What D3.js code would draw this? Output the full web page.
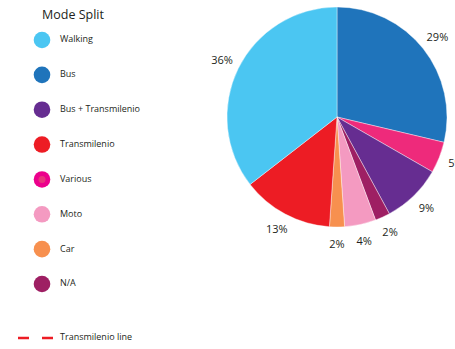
<!DOCTYPE html>
<html>
<head>
<meta charset="utf-8">
<script src="https://cdn.jsdelivr.net/npm/d3@7"></script>
<style>
  body { margin: 0; background: #fff; }
  svg { font-family: "Open Sans", "DejaVu Sans", sans-serif; }
</style>
</head>
<body>
<div id="chart"></div>
<script>
// pie slices, clockwise from 12 o'clock
var sliceNames = ["Bus", "Various", "Bus + Transmilenio", "N/A", "Moto", "Car", "Transmilenio", "Walking"];
var sliceValues = [28.7, 4.6, 8.8, 2.2, 4.6, 2.2, 13.4, 35.5];
var sliceLabels = ["29%", "5%", "9%", "2%", "4%", "2%", "13%", "36%"];
var sliceColors = ["#1f74bb", "#ee2a7b", "#662d91", "#9e1f63", "#f49ac1", "#f7904f", "#ed1c24", "#4bc6f2"];

// legend
var legendNames = ["Walking", "Bus", "Bus + Transmilenio", "Transmilenio", "Various", "Moto", "Car", "N/A"];
var legendColors = ["#4bc6f2", "#1f74bb", "#662d91", "#ed1c24", "#ec008c", "#f49ac1", "#f7904f", "#9e1f63"];

var width = 455, height = 349;
var cx = 337, cy = 117, radius = 110;

var svg = d3.select("#chart").append("svg")
    .attr("width", width)
    .attr("height", height);

// ---- pie
var pie = d3.pie().sort(null).value(function(d) { return d.value; });
var arc = d3.arc().innerRadius(0).outerRadius(radius);
var labelArc = d3.arc().innerRadius(128).outerRadius(128);

var data = sliceNames.map(function(n, i) {
    return { name: n, value: sliceValues[i], label: sliceLabels[i], color: sliceColors[i] };
});

var g = svg.append("g").attr("transform", "translate(" + cx + "," + cy + ")");

g.selectAll("path.slice")
    .data(pie(data))
    .enter().append("path")
    .attr("class", "slice")
    .attr("d", arc)
    .style("fill", function(d) { return d.data.color; })
    .style("stroke", "#fff")
    .style("stroke-width", 0.4);

g.selectAll("text.lbl")
    .data(pie(data))
    .enter().append("text")
    .attr("class", "lbl")
    .attr("transform", function(d) { return "translate(" + labelArc.centroid(d) + ")"; })
    .attr("text-anchor", "middle")
    .attr("dominant-baseline", "middle")
    .style("font-size", "11px")
    .style("fill", "#231f20")
    .text(function(d) { return d.data.label; });

// ---- legend
svg.append("text")
    .attr("x", 42)
    .attr("y", 19)
    .style("font-size", "12.5px")
    .style("fill", "#231f20")
    .text("Mode Split");

var ly = d3.scalePoint().domain(legendNames).range([40, 284]);

var item = svg.selectAll("g.legend")
    .data(legendNames)
    .enter().append("g")
    .attr("class", "legend")
    .attr("transform", function(d) { return "translate(0," + ly(d) + ")"; });

item.append("circle")
    .attr("cx", 42)
    .attr("cy", 0)
    .attr("r", 8.3)
    .style("fill", function(d, i) { return legendColors[i]; });

item.filter(function(d) { return d == "Various"; })
    .append("circle")
    .attr("cx", 42)
    .attr("cy", 0)
    .attr("r", 3.5)
    .style("fill", "#e8357d");

item.append("text")
    .attr("x", 60)
    .attr("y", 0)
    .attr("dominant-baseline", "middle")
    .style("font-size", "9px")
    .style("fill", "#231f20")
    .text(function(d) { return d; });

// Transmilenio line key
svg.append("line")
    .attr("x1", 18).attr("x2", 53)
    .attr("y1", 338).attr("y2", 338)
    .style("stroke", "#ed1c24")
    .style("stroke-width", 2.5)
    .style("stroke-dasharray", "11,13");

svg.append("text")
    .attr("x", 60)
    .attr("y", 338)
    .attr("dominant-baseline", "middle")
    .style("font-size", "9px")
    .style("fill", "#231f20")
    .text("Transmilenio line");
</script>
</body>
</html>
